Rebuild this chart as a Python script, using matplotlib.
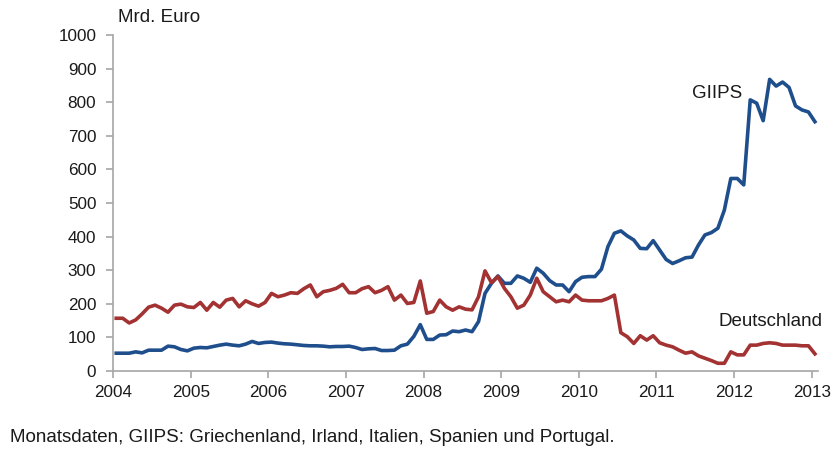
import numpy as np
import matplotlib.pyplot as plt

plt.rcParams['font.family'] = ['Liberation Sans', 'DejaVu Sans']

# monthly values, Jan 2004 - Jan 2013 (Mrd. Euro)
giips = [53, 53, 53, 57, 54, 62, 62, 62, 74, 72, 64, 60,
         68, 70, 69, 73, 77, 80, 77, 75, 80, 88, 82, 85,
         86, 83, 81, 80, 78, 76, 75, 75, 74, 72, 73, 73,
         74, 70, 64, 66, 67, 61, 61, 62, 75, 80, 103, 138,
         94, 94, 107, 108, 119, 117, 122, 117, 147, 231, 261, 283,
         261, 261, 283, 276, 264, 306, 291, 269, 256, 256, 236, 266,
         279, 281, 281, 303, 370, 410, 417, 402, 390, 365, 364, 388,
         360, 332, 320, 328, 337, 339, 375, 405, 412, 425, 479, 573,
         573, 554, 807, 797, 745, 868, 848, 860, 844, 789, 777, 771, 742]
deutschland = [157, 157, 143, 152, 170, 190, 196, 187, 175, 196, 199, 191,
               189, 204, 181, 204, 190, 211, 216, 191, 209, 200, 193, 204,
               231, 221, 226, 233, 231, 245, 256, 221, 236, 240, 246, 258,
               233, 233, 245, 251, 233, 240, 251, 211, 226, 201, 204, 268,
               172, 177, 211, 191, 181, 191, 184, 182, 221, 298, 263, 281,
               246, 221, 187, 196, 226, 276, 236, 221, 206, 211, 206, 226,
               211, 209, 209, 209, 216, 226, 114, 102, 82, 105, 92, 105,
               84, 77, 72, 62, 53, 57, 45, 38, 31, 23, 23, 57,
               48, 48, 77, 77, 82, 84, 82, 77, 77, 77, 75, 75, 51]
years = list(range(2004, 2014))

n = len(giips)
x = 2004 + (np.arange(n) + 0.5) / 12

fig = plt.figure(figsize=(8.34, 4.53), dpi=100)
ax = fig.add_axes([0.1355, 0.181, 0.981 - 0.1355, 0.9227 - 0.181])

ax.plot(x, giips, color='#1f4e8c', lw=2.6, solid_joinstyle='round')
ax.plot(x, deutschland, color='#a33232', lw=2.6, solid_joinstyle='round')

ax.set_xlim(2004, 2004 + n / 12)
ax.set_ylim(0, 1000)
ax.set_yticks(range(0, 1001, 100))
ax.set_xticks(years)
ax.set_xticklabels([str(y) for y in years])

for s in ['top', 'right']:
    ax.spines[s].set_visible(False)
for s in ['left', 'bottom']:
    ax.spines[s].set_color('#a6a6a6')
    ax.spines[s].set_linewidth(1.2)
ax.tick_params(axis='both', colors='#a6a6a6', length=5, width=1.2,
               labelsize=12.3, labelcolor='#1a1a1a')
ax.tick_params(axis='x', pad=5)
ax.tick_params(axis='y', pad=7)

fig.text(118 / 834, 1 - 18 / 453, 'Mrd. Euro', fontsize=13.5, color='#1a1a1a',
         va='center', ha='left')
ax.text(2011.46, 827, 'GIIPS', fontsize=13.5, color='#1a1a1a', ha='left', va='center')
ax.text(2013.14, 146, 'Deutschland', fontsize=13.5, color='#1a1a1a', ha='right', va='center')
fig.text(10 / 834, 1 - 438 / 453,
         'Monatsdaten, GIIPS: Griechenland, Irland, Italien, Spanien und Portugal.',
         fontsize=13.5, color='#1a1a1a', va='center', ha='left')

fig.savefig('out.png', dpi=100)
